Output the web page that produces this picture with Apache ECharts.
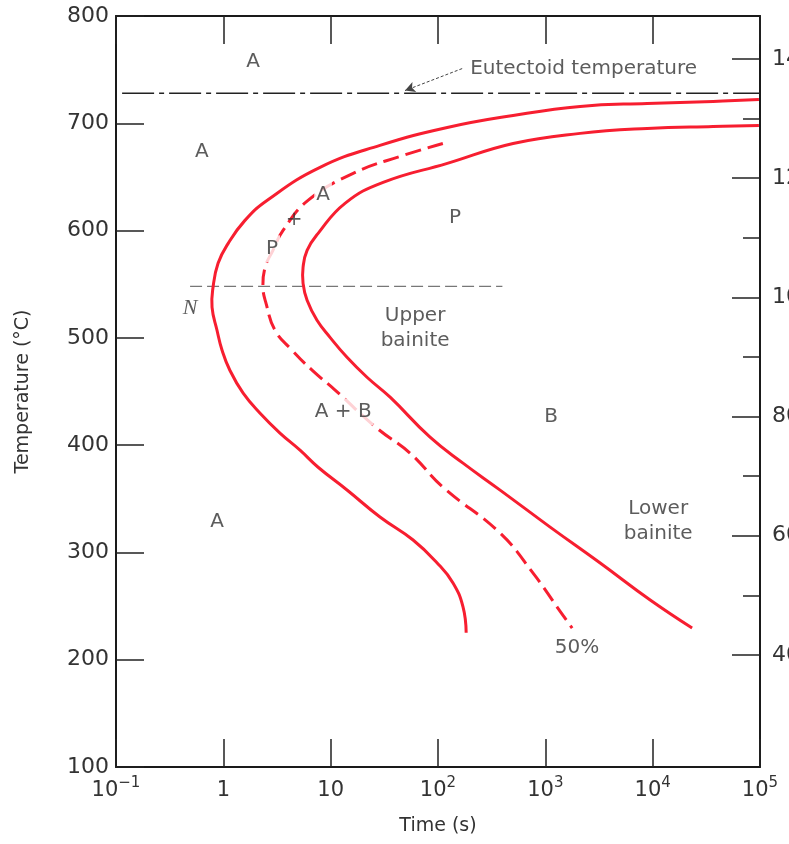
<!DOCTYPE html>
<html>
<head>
<meta charset="utf-8">
<script src="https://cdn.jsdelivr.net/npm/echarts@6/dist/echarts.min.js"></script>
<style>
  html, body { margin: 0; padding: 0; background: #fff; }
  #main { width: 789px; height: 844px; }
</style>
</head>
<body>
<div id="main"></div>
<script>
// start of transformation (solid, left)
const startTime = [97700, 36600, 8890, 2110, 501, 122, 28.8, 7.96, 2.55, 1.59, 1.11, 0.893, 0.802, 0.785, 0.873, 0.973, 1.15, 1.53, 2.2, 3.37, 5.18, 7.64, 14.2, 28.8, 58.6, 98.2, 138, 171, 183]
const startTemp = [722.2, 720.4, 718.5, 715.7, 707.3, 696.1, 679.4, 658.9, 628.1, 609.5, 588.1, 569.5, 547.2, 528.5, 507.1, 488.4, 469.8, 448.4, 429.7, 411.2, 395.3, 379.4, 358.2, 333, 311.6, 290.2, 271.6, 249.3, 225.1]
// 50% transformation (dashed)
const halfTime = [111, 47.3, 16.2, 6.15, 3.6, 2.9, 2.45, 2.34, 2.5, 3.03, 4.37, 6.71, 11, 27, 55, 111, 379, 769, 1288, 1778]
const halfTemp = [681.2, 670, 653.3, 628.1, 600.2, 581.6, 565.7, 547.2, 532.2, 507.1, 488.5, 469.9, 451.3, 415.8, 392.5, 360.9, 318, 280.7, 249.1, 229.5]
// end of transformation (solid, right)
const endTime = [97700, 36600, 8890, 2110, 501, 122, 30.8, 13.6, 7.64, 6.03, 5.53, 5.53, 6.03, 7.46, 9.86, 14.2, 21.8, 35.8, 84.3, 171, 379, 1109, 3243, 9484, 23300]
const endTemp = [698, 697.1, 695.2, 690.6, 681.2, 662.6, 644.9, 625.4, 597.4, 581.6, 565.7, 550.8, 535, 516.4, 500.5, 481.9, 463.3, 444.7, 407.4, 383.2, 358.1, 323.6, 290.1, 255.6, 229.5]

const eutectoidTemp = 728
const noseTemp = 548
const fahrenheitMajor = [400, 600, 800, 1000, 1200, 1400]
const fahrenheitMinor = [500, 700, 900, 1100, 1300]

const labelText = ['A', 'Eutectoid temperature', 'A', 'A', '+', 'P', 'P', 'N', 'Upper\nbainite', 'A + B', 'B', 'Lower\nbainite', 'A', '50%']
const labelTime = [1.89, 191, 0.632, 8.49, 4.56, 2.84, 144, 0.49, 61.2, 13.1, 1132, 11250, 0.873, 1976]
const labelTemp = [757, 751, 673, 633, 610, 583, 612, 528, 509, 431, 426, 329, 329, 211]

const toC = f => (f - 32) * 5 / 9
const red = '#f71e30'
const ink = '#333'
const font = 'DejaVu Sans'

const chart = echarts.init(document.getElementById('main'))

// smooth curve through the points, placed with the chart's own axes
function curve(name, times, temps, dash) {
    return {
        name: name,
        type: 'custom',
        coordinateSystem: 'cartesian2d',
        data: [[times[0], temps[0]]],
        z: 3,
        silent: true,
        renderItem: (params, api) => ({
            type: 'polyline',
            shape: {
                points: times.map((t, i) => api.coord([t, temps[i]])),
                smooth: 0.45
            },
            style: { stroke: red, lineWidth: 3, fill: 'none', lineDash: dash, lineCap: 'butt' }
        })
    }
}

const labelData = labelText.map((t, i) => {
    const item = { value: [labelTime[i], labelTemp[i]], name: t }
    if (t === 'N') {
        item.label = { fontFamily: 'Liberation Serif', fontStyle: 'italic', fontSize: 22 }
    }
    if (t === 'Eutectoid temperature') {
        item.label = { align: 'left', backgroundColor: '#fff', padding: [0, 2] }
    }
    if (t === 'A + B' || (t === 'A' && i === 3) || (t === 'P' && i === 5)) {
        item.label = { backgroundColor: '#fff', padding: [1, 2] }
    }
    return item
})

const tickStyle = { color: '#222', width: 1.5 }

const option = {
    animation: false,
    backgroundColor: '#fff',
    textStyle: { fontFamily: font },
    grid: { left: 116, right: 29, top: 16, bottom: 77, containLabel: false, outerBoundsMode: 'none' },
    xAxis: [
        {
            type: 'log',
            logBase: 10,
            min: 0.1,
            max: 100000,
            position: 'bottom',
            name: 'Time (s)',
            nameLocation: 'middle',
            nameGap: 50,
            nameTextStyle: { fontSize: 19, color: ink, fontFamily: font },
            axisLine: { lineStyle: { color: '#1a1a1a', width: 2 } },
            axisTick: { inside: true, length: 28, lineStyle: tickStyle },
            splitLine: { show: false },
            minorTick: { show: false },
            axisLabel: {
                margin: 9,
                fontSize: 21,
                lineHeight: 30,
                color: ink,
                fontFamily: font,
                showMinLabel: true,
                showMaxLabel: true,
                formatter: v => {
                    const e = Math.round(Math.log10(v))
                    if (e === 0) return '1'
                    if (e === 1) return '10'
                    return '10{sup|' + (e < 0 ? '\u2212' + (-e) : e) + '}'
                },
                rich: {
                    sup: { fontSize: 15, lineHeight: 15, verticalAlign: 'top', color: ink, fontFamily: font }
                }
            }
        },
        {
            type: 'log',
            logBase: 10,
            min: 0.1,
            max: 100000,
            position: 'top',
            axisLine: { lineStyle: { color: '#1a1a1a', width: 2 } },
            axisTick: { inside: true, length: 28, lineStyle: tickStyle },
            axisLabel: { show: false },
            splitLine: { show: false }
        }
    ],
    yAxis: [
        {
            type: 'value',
            min: 100,
            max: 800,
            interval: 100,
            position: 'left',
            name: 'Temperature (\u00B0C)',
            nameLocation: 'middle',
            nameGap: 83,
            nameTextStyle: { fontSize: 19, color: ink, fontFamily: font },
            axisLine: { show: true, lineStyle: { color: '#1a1a1a', width: 2 } },
            axisTick: { show: true, inside: true, length: 28, lineStyle: tickStyle },
            axisLabel: { margin: 7, fontSize: 22, color: ink, fontFamily: font },
            splitLine: { show: false }
        },
        {
            type: 'value',
            min: 100,
            max: 800,
            position: 'right',
            axisLine: { show: true, lineStyle: { color: '#1a1a1a', width: 2 } },
            axisTick: { show: true, inside: true, length: 28, lineStyle: tickStyle, customValues: fahrenheitMajor.map(toC) },
            axisLabel: {
                margin: 12,
                fontSize: 22,
                color: ink,
                fontFamily: font,
                customValues: fahrenheitMajor.map(toC),
                formatter: v => String(Math.round(v * 9 / 5 + 32))
            },
            splitLine: { show: false }
        },
        {
            type: 'value',
            min: 100,
            max: 800,
            position: 'right',
            axisLine: { show: false },
            axisTick: { show: true, inside: true, length: 17, lineStyle: tickStyle, customValues: fahrenheitMinor.map(toC) },
            axisLabel: { show: false },
            splitLine: { show: false }
        }
    ],
    series: [
        {
            name: 'eutectoid',
            type: 'line',
            data: [[0.114, eutectoidTemp], [100000, eutectoidTemp]],
            showSymbol: false,
            lineStyle: { color: '#222', width: 1.6, type: [32, 5, 5, 5] },
            z: 2,
            markLine: {
                silent: true,
                symbol: ['none', 'arrow'],
                symbolSize: [8, 10],
                label: { show: false },
                lineStyle: { color: '#444', width: 1, type: [3, 2], curveness: 0.15 },
                data: [[{ coord: [168, 751] }, { coord: [49.3, 730.5] }]]
            }
        },
        {
            name: 'nose',
            type: 'line',
            data: [[0.49, noseTemp], [398, noseTemp]],
            showSymbol: false,
            lineStyle: { color: '#777', width: 1.3, type: [12, 5] },
            z: 2
        },
        curve('start', startTime, startTemp, null),
        curve('50%', halfTime, halfTemp, [16, 7]),
        curve('end', endTime, endTemp, null),
        {
            name: 'labels',
            type: 'scatter',
            data: labelData,
            symbolSize: 0,
            z: 10,
            label: {
                show: true,
                position: 'inside',
                formatter: p => p.name,
                fontSize: 20,
                lineHeight: 25,
                color: ink,
                fontFamily: font
            }
        }
    ]
}

chart.setOption(option)
window.addEventListener('resize', function () {
    chart.resize()
})
</script>
</body>
</html>
